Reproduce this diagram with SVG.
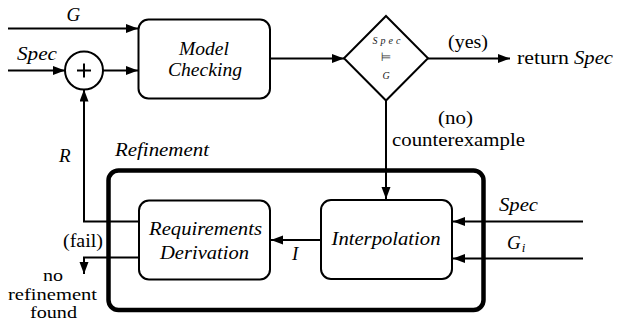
<svg xmlns="http://www.w3.org/2000/svg" width="619" height="327" viewBox="0 0 619 327">
  <style>
    .box { fill: #ffffff; stroke: #000000; stroke-width: 2; }
    .frame { fill: none; stroke: #000000; stroke-width: 4.5; }
    .wire { fill: none; stroke: #000000; stroke-width: 2; }
    .wire-arrow { fill: none; stroke: #000000; stroke-width: 2; marker-end: url(#head); }
    text { font-family: "Liberation Serif", "DejaVu Serif", serif; font-size: 19px; fill: #000000; }
    .it { font-style: italic; }
    .mid { text-anchor: middle; }
    .end { text-anchor: end; }
    .tiny { font-size: 10px; fill: #222222; }
    .small { font-size: 17px; }
    .entails { font-family: "DejaVu Sans", sans-serif; font-size: 12px; fill: #333333; }
  </style>
  <defs>
    <marker id="head" markerUnits="userSpaceOnUse" markerWidth="13" markerHeight="10" refX="12" refY="4.5" orient="auto">
      <path d="M0,0 L12,4.5 L0,9 z" fill="#000000"/>
    </marker>
  </defs>

  <!-- refinement loop frame -->
  <g id="refinement">
    <rect class="frame" x="108.5" y="170.5" width="375" height="139.5" rx="10"/>
    <text class="it" x="115" y="156" textLength="94" lengthAdjust="spacingAndGlyphs">Refinement</text>
  </g>

  <g id="connectors">
    <path class="wire-arrow" d="M8,28.5 H138"/>
    <path class="wire-arrow" d="M8,70.5 H65"/>
    <path class="wire-arrow" d="M103,70.5 H138"/>
    <path class="wire-arrow" d="M270,58.5 H344"/>
    <path class="wire-arrow" d="M428,58.5 H510"/>
    <path class="wire-arrow" d="M386,100 V199"/>
    <path class="wire-arrow" d="M583,221.5 H453"/>
    <path class="wire-arrow" d="M583,258.5 H453"/>
    <path class="wire-arrow" d="M321,240 H271"/>
    <path class="wire-arrow" d="M139,221.5 H84 V89.5"/>
    <path class="wire-arrow" d="M139,257.5 H84 V274"/>
  </g>

  <g id="plus">
    <circle class="box" cx="84" cy="70.5" r="19"/>
    <path class="wire" d="M77,70.5 H91 M84,63.5 V77.5" stroke-width="1.2"/>
  </g>

  <g id="model-checking">
    <rect class="box" x="138.5" y="19.5" width="131.5" height="79" rx="10"/>
    <text class="it mid" x="204" y="55" textLength="50" lengthAdjust="spacingAndGlyphs">Model</text>
    <text class="it mid" x="205" y="76" textLength="74" lengthAdjust="spacingAndGlyphs">Checking</text>
  </g>

  <g id="decision">
    <polygon class="box" points="386,16 428,58.3 386,100.5 344,58.3"/>
    <text class="it mid tiny" x="386.5" y="44" textLength="28" lengthAdjust="spacing">Spec</text>
    <text class="mid entails" x="386" y="61">⊨</text>
    <text class="it mid tiny" x="386" y="79">G</text>
  </g>

  <g id="requirements-derivation">
    <rect class="box" x="139" y="200.5" width="131" height="79" rx="10"/>
    <text class="it mid" x="205.5" y="234.5" textLength="113" lengthAdjust="spacingAndGlyphs">Requirements</text>
    <text class="it mid" x="204.5" y="258.5" textLength="89" lengthAdjust="spacingAndGlyphs">Derivation</text>
  </g>

  <g id="interpolation">
    <rect class="box" x="321" y="200" width="131" height="79" rx="10"/>
    <text class="it mid" x="386" y="245" textLength="109" lengthAdjust="spacingAndGlyphs">Interpolation</text>
  </g>

  <g id="labels">
    <text class="it" x="66.5" y="21">G</text>
    <text class="it" x="17" y="59.5" textLength="40" lengthAdjust="spacingAndGlyphs">Spec</text>
    <text class="mid" x="468" y="47.5" textLength="40" lengthAdjust="spacingAndGlyphs">(yes)</text>
    <text x="517" y="63.5" textLength="52" lengthAdjust="spacingAndGlyphs">return</text>
    <text class="it" x="574" y="63.5" textLength="39" lengthAdjust="spacingAndGlyphs">Spec</text>
    <text class="mid" x="455.5" y="123.5" textLength="35" lengthAdjust="spacingAndGlyphs">(no)</text>
    <text x="392" y="146" textLength="133" lengthAdjust="spacingAndGlyphs">counterexample</text>
    <text class="it" x="59" y="162">R</text>
    <text class="it" x="292" y="260">I</text>
    <text class="end" x="103" y="246.5" textLength="40" lengthAdjust="spacingAndGlyphs">(fail)</text>
    <text class="mid small" x="53" y="281" textLength="20" lengthAdjust="spacingAndGlyphs">no</text>
    <text class="mid small" x="52.5" y="300" textLength="89" lengthAdjust="spacingAndGlyphs">refinement</text>
    <text class="mid small" x="53.5" y="318" textLength="47" lengthAdjust="spacingAndGlyphs">found</text>
    <text class="it" x="499" y="210.5" textLength="39" lengthAdjust="spacingAndGlyphs">Spec</text>
    <text class="it" x="507" y="249">G<tspan style="font-size:13px" dx="1" dy="3">i</tspan></text>
  </g>
</svg>
